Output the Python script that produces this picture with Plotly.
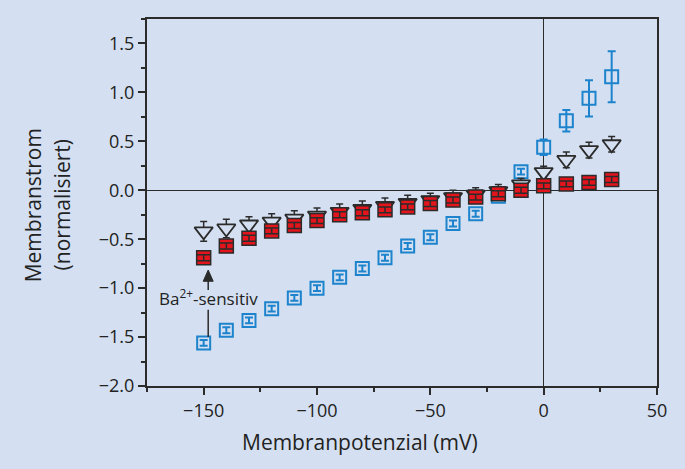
import plotly.graph_objects as go

# --- data ---
voltage = [-150, -140, -130, -120, -110, -100, -90, -80, -70, -60, -50, -40, -30, -20, -10, 0, 10, 20, 30]

blue_y = [-1.56, -1.43, -1.33, -1.21, -1.10, -1.00, -0.89, -0.80, -0.69, -0.57, -0.48, -0.34, -0.24, -0.06, 0.19, 0.44, 0.71, 0.94, 1.16]
blue_err = [0.03, 0.03, 0.03, 0.03, 0.03, 0.03, 0.03, 0.03, 0.03, 0.03, 0.03, 0.03, 0.03, 0.03, 0.03, 0.08, 0.11, 0.185, 0.26]

tri_y = [-0.42, -0.39, -0.35, -0.32, -0.29, -0.26, -0.22, -0.19, -0.16, -0.13, -0.10, -0.07, -0.045, -0.01, 0.06, 0.185, 0.31, 0.41, 0.47]
tri_err = [0.10, 0.095, 0.08, 0.08, 0.08, 0.08, 0.08, 0.08, 0.08, 0.08, 0.07, 0.07, 0.07, 0.07, 0.06, 0.06, 0.08, 0.08, 0.08]

red_y = [-0.69, -0.57, -0.49, -0.415, -0.36, -0.31, -0.25, -0.23, -0.20, -0.17, -0.135, -0.10, -0.07, -0.035, 0.0, 0.045, 0.065, 0.08, 0.11]
red_err = [0.03] * 19

x_ticks = [-150, -100, -50, 0, 50]
y_ticks = [-2.0, -1.5, -1.0, -0.5, 0.0, 0.5, 1.0, 1.5]

BLUE = "#1c83cc"
RED = "#e3141c"
DARK = "#2b2b2b"
BG = "#d4e0f1"
FONT = "Open Sans"
TXT = "#222222"

fig = go.Figure()

fig.add_trace(go.Scatter(
    x=voltage, y=blue_y, mode="markers",
    marker=dict(symbol="square-open", size=13, color=BLUE, line=dict(width=2, color=BLUE)),
    error_y=dict(type="data", array=blue_err, color=BLUE, thickness=2, width=4),
    showlegend=False, hoverinfo="skip"))

fig.add_trace(go.Scatter(
    x=voltage, y=tri_y, mode="markers",
    marker=dict(symbol="triangle-down", size=16, color=BG, line=dict(width=1.8, color=DARK)),
    error_y=dict(type="data", array=tri_err, color=DARK, thickness=1.5, width=3.5),
    showlegend=False, hoverinfo="skip"))

fig.add_trace(go.Scatter(
    x=voltage, y=red_y, mode="markers",
    marker=dict(symbol="square", size=14, color=RED, line=dict(width=1.5, color=DARK)),
    showlegend=False, hoverinfo="skip"))

# error bars of the red series drawn over the filled markers
fig.add_trace(go.Scatter(
    x=voltage, y=red_y, mode="markers",
    marker=dict(symbol="square", size=14, color="rgba(0,0,0,0)"),
    error_y=dict(type="data", array=red_err, color=DARK, thickness=1.5, width=7),
    showlegend=False, hoverinfo="skip"))

axis_common = dict(
    showline=True, linecolor=DARK, linewidth=2, mirror=True,
    showgrid=False, zeroline=True, zerolinecolor=DARK, zerolinewidth=1.3,
    ticks="outside", ticklen=7, tickwidth=1.5, tickcolor=DARK,
    tickfont=dict(family=FONT, size=18, color=TXT),
)

fig.update_layout(
    width=685, height=469,
    paper_bgcolor=BG, plot_bgcolor=BG,
    margin=dict(l=147, r=28, t=19, b=83),
    xaxis=dict(range=[-175, 50], tickvals=x_ticks,
               minor=dict(dtick=25, tick0=0, ticks="outside", ticklen=4, tickwidth=1.5, tickcolor=DARK),
               **axis_common),
    yaxis=dict(range=[-2.0, 1.75], tickvals=y_ticks, tickformat=".1f",
               minor=dict(dtick=0.25, tick0=0, ticks="outside", ticklen=4, tickwidth=1.5, tickcolor=DARK),
               **axis_common),
    annotations=[
        dict(text="Membranpotenzial (mV)", xref="paper", yref="paper", x=0.418, y=-0.153,
             showarrow=False, font=dict(family=FONT, size=21, color=TXT),
             xanchor="center", yanchor="middle"),
        dict(text="Membranstrom", xref="paper", yref="paper", x=-0.223, y=0.493,
             showarrow=False, textangle=-90, font=dict(family=FONT, size=21, color=TXT),
             xanchor="center", yanchor="middle"),
        dict(text="(normalisiert)", xref="paper", yref="paper", x=-0.166, y=0.493,
             showarrow=False, textangle=-90, font=dict(family=FONT, size=21, color=TXT),
             xanchor="center", yanchor="middle"),
        dict(text="Ba<sup>2+</sup>-sensitiv", xref="x", yref="y", x=-148, y=-1.10,
             showarrow=False, font=dict(family=FONT, size=17, color=TXT),
             xanchor="center", yanchor="middle"),
    ],
    shapes=[
        dict(type="line", xref="x", yref="y", x0=-148, x1=-148, y0=-0.90, y1=-1.02,
             line=dict(color=DARK, width=1.5)),
        dict(type="path", xref="x", yref="y", path="M -148 -0.815 L -150.2 -0.93 L -145.8 -0.93 Z",
             fillcolor=DARK, line=dict(color=DARK, width=1)),
        dict(type="line", xref="x", yref="y", x0=-148, x1=-148, y0=-1.22, y1=-1.50,
             line=dict(color=DARK, width=1.5)),
    ],
)

fig.write_html("out.html", config={"displayModeBar": False},
               post_script="document.body.style.margin='0';document.body.style.background='%s';" % BG)
